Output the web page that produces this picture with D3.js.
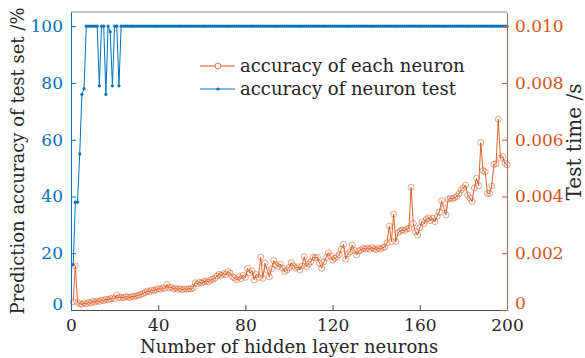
<!DOCTYPE html>
<html lang="en">
<head>
    <meta charset="UTF-8">
    <title>Hidden layer neurons</title>
    <script src="https://d3js.org/d3.v7.min.js"></script>
    <style>
        body { margin: 0; background: #fff; }
        text { font-family: "DejaVu Serif", serif; }
    </style>
</head>
<body>
<svg id="main" width="585" height="358"></svg>
<script>
    // data, neurons 1..200
    const neurons = d3.range(1, 201);

    // accuracy of neuron test (%), left axis
    const accuracy = [
        16, 38, 38, 55, 76, 78, 100, 100, 100, 100, 100, 100, 79, 100, 100, 76, 100, 98, 79, 100,
        100, 79, 100, 100, 100, 100, 100, 100, 100, 100, 100, 100, 100, 100, 100, 100, 100, 100, 100, 100,
        100, 100, 100, 100, 100, 100, 100, 100, 100, 100, 100, 100, 100, 100, 100, 100, 100, 100, 100, 100,
        100, 100, 100, 100, 100, 100, 100, 100, 100, 100, 100, 100, 100, 100, 100, 100, 100, 100, 100, 100,
        100, 100, 100, 100, 100, 100, 100, 100, 100, 100, 100, 100, 100, 100, 100, 100, 100, 100, 100, 100,
        100, 100, 100, 100, 100, 100, 100, 100, 100, 100, 100, 100, 100, 100, 100, 100, 100, 100, 100, 100,
        100, 100, 100, 100, 100, 100, 100, 100, 100, 100, 100, 100, 100, 100, 100, 100, 100, 100, 100, 100,
        100, 100, 100, 100, 100, 100, 100, 100, 100, 100, 100, 100, 100, 100, 100, 100, 100, 100, 100, 100,
        100, 100, 100, 100, 100, 100, 100, 100, 100, 100, 100, 100, 100, 100, 100, 100, 100, 100, 100, 100,
        100, 100, 100, 100, 100, 100, 100, 100, 100, 100, 100, 100, 100, 100, 100, 100, 100, 100, 100, 100
    ];

    // test time (s), right axis
    const testTime = [
        0.00029, 0.00156, 0.00026, 0.00022, 0.00020, 0.00025, 0.00022, 0.00027, 0.00025, 0.00030,
        0.00028, 0.00032, 0.00030, 0.00035, 0.00033, 0.00038, 0.00036, 0.00040, 0.00042, 0.00039,
        0.00053, 0.00044, 0.00045, 0.00043, 0.00047, 0.00046, 0.00044, 0.00048, 0.00047, 0.00050,
        0.00052, 0.00055, 0.00058, 0.00062, 0.00067, 0.00064, 0.00070, 0.00068, 0.00072, 0.00075,
        0.00073, 0.00078, 0.00076, 0.00090, 0.00078, 0.00080, 0.00074, 0.00077, 0.00073, 0.00075,
        0.00072, 0.00074, 0.00073, 0.00075, 0.00074, 0.00078, 0.00096, 0.00092, 0.00098, 0.00095,
        0.00100, 0.00102, 0.00099, 0.00106, 0.00108, 0.00112, 0.00120, 0.00126, 0.00122, 0.00128,
        0.00125, 0.00135, 0.00130, 0.00118, 0.00112, 0.00106, 0.00117, 0.00110, 0.00122, 0.00115,
        0.00147, 0.00130, 0.00138, 0.00106, 0.00125, 0.00115, 0.00186, 0.00112, 0.00165, 0.00140,
        0.00117, 0.00145, 0.00174, 0.00160, 0.00153, 0.00162, 0.00148, 0.00135, 0.00141, 0.00150,
        0.00167, 0.00155, 0.00148, 0.00152, 0.00141, 0.00155, 0.00188, 0.00153, 0.00162, 0.00170,
        0.00186, 0.00184, 0.00186, 0.00165, 0.00147, 0.00170, 0.00185, 0.00202, 0.00190, 0.00176,
        0.00182, 0.00188, 0.00195, 0.00214, 0.00231, 0.00179, 0.00198, 0.00205, 0.00229, 0.00210,
        0.00194, 0.00208, 0.00212, 0.00217, 0.00215, 0.00218, 0.00214, 0.00220, 0.00216, 0.00213,
        0.00218, 0.00215, 0.00220, 0.00222, 0.00237, 0.00296, 0.00241, 0.00338, 0.00241, 0.00272,
        0.00278, 0.00282, 0.00280, 0.00285, 0.00288, 0.00432, 0.00305, 0.00276, 0.00264, 0.00290,
        0.00311, 0.00305, 0.00320, 0.00325, 0.00315, 0.00323, 0.00311, 0.00330, 0.00345, 0.00385,
        0.00360, 0.00335, 0.00390, 0.00394, 0.00392, 0.00396, 0.00400, 0.00410, 0.00423, 0.00430,
        0.00440, 0.00405, 0.00395, 0.00382, 0.00430, 0.00464, 0.00438, 0.00590, 0.00491, 0.00487,
        0.00411, 0.00411, 0.00437, 0.00513, 0.00515, 0.00672, 0.00535, 0.00540, 0.00517, 0.00511
    ];

    const xTicks = [0, 40, 80, 120, 160, 200];
    const leftTicks = [0, 20, 40, 60, 80, 100];
    const rightTicks = [0, 0.002, 0.004, 0.006, 0.008, 0.010];

    const blue = '#0072BD';
    const orange = '#D95319';

    let svg = d3.select('svg#main');
    let box = {left: 71, right: 507, top: 12, bottom: 310};

    // scales
    let xScale = d3.scaleLinear().domain([0, 200]).range([box.left, box.right]);
    let yLeft = d3.scaleLinear().domain([0, 105]).range([box.bottom, box.top]);
    let yRight = d3.scaleLinear().domain([0, 0.0105]).range([box.bottom, box.top]);

    // top border
    svg.append('line')
        .attr('x1', box.left).attr('x2', box.right)
        .attr('y1', box.top).attr('y2', box.top)
        .attr('stroke', '#8a8a8a').attr('stroke-width', 1);

    // test time line (orange, open circles)
    let timeData = neurons.map((n, i) => [n, testTime[i]]);
    svg.append('path')
        .datum(timeData)
        .attr('fill', 'none')
        .attr('stroke', orange)
        .attr('stroke-width', 0.9)
        .attr('d', d3.line().x(d => xScale(d[0])).y(d => yRight(d[1])));
    svg.append('g').selectAll('circle')
        .data(timeData)
        .join('circle')
        .attr('cx', d => xScale(d[0]))
        .attr('cy', d => yRight(d[1]))
        .attr('r', 3)
        .attr('fill', 'none')
        .attr('stroke', orange)
        .attr('stroke-opacity', 0.75)
        .attr('stroke-width', 0.7);

    // accuracy line (blue, dots)
    let accData = neurons.map((n, i) => [n, accuracy[i]]);
    svg.append('path')
        .datum(accData)
        .attr('fill', 'none')
        .attr('stroke', blue)
        .attr('stroke-width', 1)
        .attr('d', d3.line().x(d => xScale(d[0])).y(d => yLeft(d[1])));
    svg.append('g').selectAll('circle')
        .data(accData)
        .join('circle')
        .attr('cx', d => xScale(d[0]))
        .attr('cy', d => yLeft(d[1]))
        .attr('r', 1.6)
        .attr('fill', blue);

    // axes, ticks point inward like the original
    let xAxis = svg.append('g')
        .attr('transform', 'translate(0,' + box.bottom + ')')
        .call(d3.axisBottom(xScale).tickValues(xTicks).tickSizeInner(-5).tickSizeOuter(0).tickPadding(9));
    xAxis.select('.domain').attr('stroke', '#5c4a48');
    xAxis.selectAll('.tick line').attr('stroke', '#5c4a48');
    xAxis.selectAll('text').attr('fill', '#262626').style('font-size', '17px');

    let leftAxis = svg.append('g')
        .attr('transform', 'translate(' + box.left + ',0)')
        .call(d3.axisLeft(yLeft).tickValues(leftTicks).tickSizeInner(-5).tickSizeOuter(0).tickPadding(8));
    leftAxis.select('.domain').attr('stroke', blue);
    leftAxis.selectAll('.tick line').attr('stroke', blue);
    leftAxis.selectAll('text').attr('fill', blue).style('font-size', '17px');
    leftAxis.selectAll('.tick').filter(d => d === 0).select('text').attr('dy', '-0.05em');

    let rightAxis = svg.append('g')
        .attr('transform', 'translate(' + box.right + ',0)')
        .call(d3.axisRight(yRight).tickValues(rightTicks).tickSizeInner(-5).tickSizeOuter(0).tickPadding(8)
            .tickFormat(d => d === 0 ? '0' : d3.format('.3f')(d)));
    rightAxis.select('.domain').attr('stroke', '#9c6e68');
    rightAxis.selectAll('.tick line').attr('stroke', orange);
    rightAxis.selectAll('text').attr('fill', orange).style('font-size', '17px');
    rightAxis.selectAll('.tick').filter(d => d === 0).select('text').attr('dy', '-0.1em');

    // axis titles
    svg.append('text')
        .attr('x', (box.left + box.right) / 2)
        .attr('y', 353)
        .attr('text-anchor', 'middle')
        .attr('fill', '#262626')
        .style('font-size', '18px')
        .text('Number of hidden layer neurons');

    svg.append('text')
        .attr('transform', 'translate(24,' + (box.top + box.bottom) / 2 + ') rotate(-90)')
        .attr('text-anchor', 'middle')
        .attr('fill', '#262626')
        .style('font-size', '18px')
        .text('Prediction accuracy of test set /%');

    svg.append('text')
        .attr('transform', 'translate(581,142) rotate(-90)')
        .attr('text-anchor', 'middle')
        .attr('fill', '#262626')
        .style('font-size', '20px')
        .text('Test time /s');

    // legend
    let legend = svg.append('g');
    let legendItems = [
        {label: 'accuracy of each neuron', color: orange, marker: 'circle', y: 66},
        {label: 'accuracy of neuron test', color: blue, marker: 'dot', y: 89}
    ];
    legendItems.forEach(function (item) {
        legend.append('line')
            .attr('x1', 200).attr('x2', 235)
            .attr('y1', item.y).attr('y2', item.y)
            .attr('stroke', item.color).attr('stroke-width', 1);
        legend.append('circle')
            .attr('cx', 218).attr('cy', item.y)
            .attr('r', item.marker === 'circle' ? 3 : 1.6)
            .attr('fill', item.marker === 'circle' ? '#fff' : item.color)
            .attr('stroke', item.marker === 'circle' ? item.color : 'none')
            .attr('stroke-width', 0.8);
        legend.append('text')
            .attr('x', 240).attr('y', item.y + 6)
            .attr('fill', '#262626')
            .style('font-size', '18px')
            .text(item.label);
    });
</script>
</body>
</html>
